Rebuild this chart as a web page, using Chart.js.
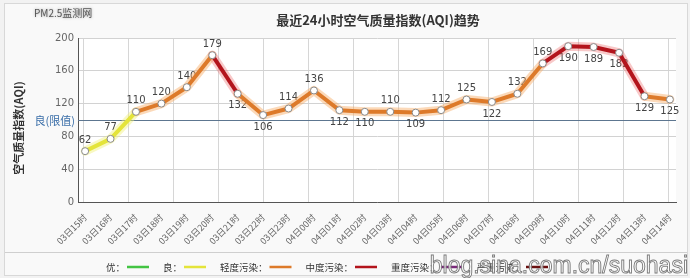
<!DOCTYPE html>
<html>
<head>
<meta charset="utf-8">
<script src="https://cdn.jsdelivr.net/npm/chart.js@4/dist/chart.umd.min.js"></script>
<style>
  html, body { margin: 0; padding: 0; background: #f2f2f2; }
  #wrap { width: 690px; height: 278px; position: relative; }
</style>
</head>
<body>
<div id="wrap"><canvas id="aqi" width="690" height="278"></canvas></div>
<script>
// ---------- data ----------
var HOURS = ["03日15时", "03日16时", "03日17时", "03日18时", "03日19时", "03日20时",
  "03日21时", "03日22时", "03日23时", "04日00时", "04日01时", "04日02时",
  "04日03时", "04日04时", "04日05时", "04日06时", "04日07时", "04日08时",
  "04日09时", "04日10时", "04日11时", "04日12时", "04日13时", "04日14时"];
var AQI = [62, 77, 110, 120, 140, 179, 132, 106, 114, 136, 112, 110,
  110, 109, 112, 125, 122, 132, 169, 190, 189, 182, 129, 125];
var Y_TICKS = [0, 40, 80, 120, 160, 200];
var LIMIT = 100;   // 良 limit line
var LEVELS = ["优", "良", "轻度污染", "中度污染", "重度污染", "严重污染"];
var LEVEL_TOP = [50, 100, 150, 200, 300, 500];

var LINE_COL = ["#43c443", "#e4e43a", "#dd7a2a", "#b3141c", "#7a2a7a", "#6a1010"];
var GLOW_COL = ["rgba(120,220,120,.35)", "rgba(240,240,120,.45)", "rgba(246,170,100,.45)",
  "rgba(235,100,100,.35)", "rgba(170,90,170,.3)", "rgba(150,60,60,.3)"];

function levelOf(v) {
  for (var i = 0; i < LEVEL_TOP.length; i++) if (v <= LEVEL_TOP[i]) return i;
  return LEVEL_TOP.length - 1;
}
var points = AQI.map(function (v, i) { return { x: i, y: v }; });

// ---------- decorations (title, texts, limit line, value labels, legend) ----------
var decor = {
  id: "decor",
  beforeDraw: function (chart) {
    var c = chart.ctx, a = chart.chartArea;
    c.save();
    c.fillStyle = "#f9f9f9";
    c.fillRect(4, 3, 684, 273);
    c.strokeStyle = "#d8d8d8";
    c.strokeRect(4.5, 3.5, 683, 272);
    c.fillStyle = "#ffffff";
    c.fillRect(a.left, a.top, a.right - a.left, a.bottom - a.top);
    c.strokeStyle = "#cfcfcf";
    c.beginPath(); c.moveTo(5, 252.5); c.lineTo(687, 252.5); c.stroke();
    c.restore();
  },
  beforeDatasetsDraw: function (chart) {
    var c = chart.ctx, a = chart.chartArea, y = chart.scales.y, meta = chart.getDatasetMeta(1);
    c.save();
    // limit line at 100
    var yl = Math.round(y.getPixelForValue(LIMIT)) + 0.5;
    c.strokeStyle = "#5d7690"; c.lineWidth = 1.2;
    c.beginPath(); c.moveTo(a.left, yl); c.lineTo(a.right, yl); c.stroke();
    c.fillStyle = "#3a6ea8"; c.font = "11px 'Noto Sans CJK SC'";
    c.textAlign = "right"; c.textBaseline = "middle";
    c.fillText("良(限值)", a.left - 3, yl);
    // value labels
    c.fillStyle = "#444"; c.font = "10px 'DejaVu Sans'"; c.textAlign = "center";
    meta.data.forEach(function (p, i) {
      var v = AQI[i], prev = i ? AQI[i - 1] : v;
      var below = v < prev || v > 185;
      c.fillText(String(v), p.x, below ? p.y + 12 : p.y - 11);
    });
    c.restore();
  },
  afterDraw: function (chart) {
    var c = chart.ctx;
    c.save();
    // title
    c.fillStyle = "#333"; c.font = "bold 13px 'Noto Sans CJK SC'";
    c.textAlign = "center"; c.textBaseline = "middle";
    c.fillText("最近24小时空气质量指数(AQI)趋势", 378, 20);
    // site mark
    c.font = "10px 'Noto Sans CJK SC'"; c.textAlign = "left";
    c.shadowColor = "rgba(0,0,0,.35)"; c.shadowBlur = 3; c.fillStyle = "#555";
    c.fillText("PM2.5监测网", 34, 13);
    c.shadowBlur = 0; c.shadowColor = "transparent";
    // y title
    c.translate(19, 128); c.rotate(-Math.PI / 2);
    c.fillStyle = "#333"; c.font = "bold 11px 'Noto Sans CJK SC'"; c.textAlign = "center";
    c.fillText("空气质量指数(AQI)", 0, 0);
    c.setTransform(1, 0, 0, 1, 0, 0);
    // legend
    var x = 106, ly = 267;
    c.font = "9.5px 'Noto Sans CJK SC'"; c.textAlign = "left"; c.textBaseline = "middle";
    LEVELS.forEach(function (name, i) {
      var t = name + "：";
      c.fillStyle = "#333"; c.fillText(t, x, ly);
      x += c.measureText(t).width + 2;
      c.strokeStyle = LINE_COL[i]; c.lineWidth = 2.5;
      c.beginPath(); c.moveTo(x, ly); c.lineTo(x + 22, ly); c.stroke();
      x += 36;
    });
    // watermark
    c.font = "23px 'Liberation Sans'"; c.textAlign = "right";
    c.fillStyle = "rgba(255,255,255,.8)"; c.strokeStyle = "#7a7a7a"; c.lineWidth = 0.9;
    c.fillText("blog.sina.com.cn/suohasi", 688, 267);
    c.strokeText("blog.sina.com.cn/suohasi", 688, 267);
    c.restore();
  }
};

new Chart(document.getElementById("aqi"), {
  type: "line",
  data: {
    datasets: [
      {
        data: points, order: 2, borderWidth: 9, pointRadius: 0, tension: 0,
        borderCapStyle: "round", borderJoinStyle: "round",
        segment: { borderColor: function (s) { return GLOW_COL[levelOf(s.p0.parsed.y)]; } }
      },
      {
        data: points, order: 1, borderWidth: 4, tension: 0,
        borderJoinStyle: "round",
        segment: { borderColor: function (s) { return LINE_COL[levelOf(s.p0.parsed.y)]; } },
        pointRadius: 3.5, pointBackgroundColor: "#fff",
        pointBorderColor: "#8a8a8a", pointBorderWidth: 1
      }
    ]
  },
  options: {
    responsive: false, animation: false,
    layout: { padding: { top: 38, right: 14, left: 0, bottom: 0 } },
    plugins: { legend: { display: false }, tooltip: { enabled: false } },
    scales: {
      x: {
        type: "linear", min: -0.28, max: 23.24,
        grid: { display: false },
        border: { color: "#555", width: 1 },
        ticks: {
          stepSize: 1, autoSkip: false, includeBounds: false,
          maxRotation: 45, minRotation: 45, padding: 2,
          color: "#666", font: { size: 9, family: "'Noto Sans CJK SC'" },
          callback: function (v) { return Number.isInteger(v) ? HOURS[v] : ""; }
        },
        afterFit: function (s) { s.height = 76; }
      },
      xg: {
        type: "linear", position: "bottom", min: -1.1333, max: 12.156,
        grid: { color: "#d6d6d6", drawTicks: false },
        border: { display: false },
        ticks: { display: false, stepSize: 1, includeBounds: false },
        afterFit: function (s) { s.height = 0; }
      },
      y: {
        min: 0, max: 200,
        afterBuildTicks: function (s) { s.ticks = Y_TICKS.map(function (v) { return { value: v }; }); },
        grid: { color: "#d2d2d2", drawTicks: false },
        border: { color: "#555", width: 1 },
        ticks: { color: "#666", padding: 4, font: { size: 10, family: "'DejaVu Sans'" } },
        afterFit: function (s) { s.width = 78; }
      }
    }
  },
  plugins: [decor]
});
</script>
</body>
</html>
